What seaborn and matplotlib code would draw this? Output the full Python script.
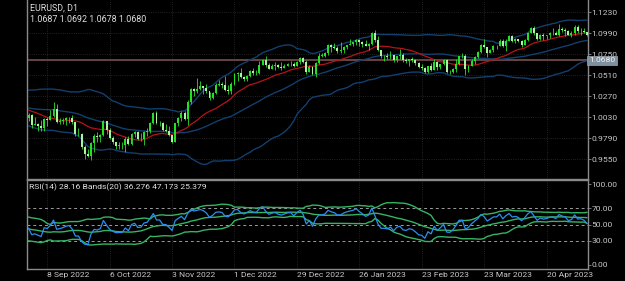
import numpy as np
import pandas as pd
import matplotlib
matplotlib.use('Agg')
import matplotlib.pyplot as plt
import matplotlib.transforms as mtransforms
import seaborn as sns

# daily closes before the visible window (Jun-Aug 2022), only used to warm up the indicators
history_close = [
    1.0650, 1.0750, 1.0720, 1.0695, 1.0705, 1.0715, 1.0615, 1.0520, 1.0410, 1.0415, 1.0445,
    1.0550, 1.0495, 1.0510, 1.0535, 1.0565, 1.0520, 1.0555, 1.0585, 1.0520, 1.0440, 1.0480,
    1.0425, 1.0425, 1.0265, 1.0180, 1.0160, 1.0185, 1.0040, 1.0035, 1.0060, 1.0020, 1.0080,
    1.0140, 1.0230, 1.0180, 1.0230, 1.0210, 1.0225, 1.0130, 1.0200, 1.0195, 1.0225,
    1.0260, 1.0165, 1.0165, 1.0245, 1.0180, 1.0195, 1.0210, 1.0300, 1.0320, 1.0260, 1.0160,
    1.0170, 1.0180, 1.0085, 1.0040, 0.9940, 0.9970, 0.9970, 0.9970, 0.9965, 1.0000, 1.0015,
]

# visible bars, 31 Aug 2022 - 9 May 2023
close = [
    1.0055,
    0.9945, 0.9955, 0.9930, 0.9905, 1.0010, 0.9998, 1.0040, 1.0120, 0.9970, 0.9980, 0.9995,
    1.0015, 1.0025, 0.9970, 0.9835, 0.9835, 0.9690, 0.9605, 0.9590, 0.9735, 0.9815, 0.9800,
    0.9825, 0.9985, 0.9885, 0.9790, 0.9740, 0.9700, 0.9705, 0.9705, 0.9780, 0.9720, 0.9835,
    0.9860, 0.9775, 0.9780, 0.9860, 0.9875, 0.9965, 1.0080, 0.9965, 0.9965, 0.9880,
    0.9875, 0.9820, 0.9750, 0.9960, 1.0020, 1.0075, 1.0010, 1.0200, 1.0355, 1.0325, 1.0350,
    1.0385, 1.0365, 1.0325, 1.0245, 1.0305, 1.0395, 1.0410, 1.0400, 1.0340, 1.0330, 1.0405,
    1.0525, 1.0535, 1.0490, 1.0470, 1.0505, 1.0555, 1.0535, 1.0535, 1.0630, 1.0680, 1.0625,
    1.0585, 1.0610, 1.0625, 1.0605, 1.0595, 1.0615, 1.0635, 1.0640, 1.0610, 1.0660, 1.0705,
    1.0665, 1.0550, 1.0605, 1.0520, 1.0645, 1.0735, 1.0735, 1.0760, 1.0850, 1.0830, 1.0820,
    1.0790, 1.0795, 1.0830, 1.0855, 1.0870, 1.0885, 1.0915, 1.0890, 1.0870, 1.0845, 1.0865,
    1.0990, 1.0910, 1.0795, 1.0725, 1.0725, 1.0715, 1.0740, 1.0680, 1.0725, 1.0740, 1.0685,
    1.0675, 1.0695, 1.0685, 1.0650, 1.0605, 1.0595, 1.0545, 1.0610, 1.0575,
    1.0665, 1.0600, 1.0635, 1.0680, 1.0550, 1.0545, 1.0580, 1.0640, 1.0730, 1.0730, 1.0580,
    1.0610, 1.0670, 1.0720, 1.0770, 1.0860, 1.0830, 1.0760, 1.0800, 1.0845, 1.0845, 1.0905,
    1.0840,
    1.0905, 1.0955, 1.0905, 1.0920, 1.0905, 1.0860, 1.0915, 1.0995, 1.1045, 1.0990, 1.0925,
    1.0970, 1.0955, 1.0965, 1.0990, 1.0990, 1.0975, 1.1040, 1.1025, 1.1015,
    1.0975, 1.0990, 1.1060, 1.1015, 1.1020, 1.1005, 1.0965,
]
high = [
    1.0080,
    1.0060, 1.0035, 0.9960, 1.0000, 1.0015, 1.0030, 1.0115, 1.0198, 1.0185, 1.0020, 1.0020,
    1.0035, 1.0030, 1.0050, 0.9975, 0.9905, 0.9850, 0.9710, 0.9670, 0.9750, 0.9835, 0.9855,
    0.9835, 0.9999, 0.9990, 0.9905, 0.9810, 0.9750, 0.9740, 0.9740, 0.9805, 0.9810, 0.9845,
    0.9875, 0.9870, 0.9850, 0.9870, 0.9900, 0.9975, 1.0090, 1.0095, 0.9985, 0.9975,
    0.9955, 0.9930, 0.9820, 0.9965, 1.0030, 1.0095, 1.0095, 1.0225, 1.0365, 1.0365, 1.0480,
    1.0445, 1.0390, 1.0405, 1.0320, 1.0315, 1.0415, 1.0450, 1.0435, 1.0500, 1.0400, 1.0430,
    1.0535, 1.0545, 1.0595, 1.0505, 1.0515, 1.0565, 1.0590, 1.0565, 1.0675, 1.0695, 1.0735,
    1.0650, 1.0640, 1.0665, 1.0640, 1.0660, 1.0635, 1.0645, 1.0670, 1.0665, 1.0675, 1.0715,
    1.0715, 1.0680, 1.0630, 1.0610, 1.0660, 1.0760, 1.0760, 1.0775, 1.0870, 1.0870, 1.0875,
    1.0845, 1.0887, 1.0845, 1.0860, 1.0925, 1.0890, 1.0930, 1.0930, 1.0900, 1.0915, 1.0875,
    1.1000, 1.1033, 1.0955, 1.0800, 1.0740, 1.0760, 1.0790, 1.0740, 1.0735, 1.0805, 1.0760,
    1.0710, 1.0700, 1.0715, 1.0700, 1.0665, 1.0640, 1.0605, 1.0620, 1.0645,
    1.0690, 1.0670, 1.0640, 1.0695, 1.0695, 1.0565, 1.0590, 1.0700, 1.0735, 1.0760, 1.0750,
    1.0630, 1.0690, 1.0730, 1.0785, 1.0865, 1.0930, 1.0835, 1.0805, 1.0850, 1.0860, 1.0925,
    1.0925,
    1.0920, 1.0975, 1.0970, 1.0940, 1.0925, 1.0910, 1.0925, 1.1000, 1.1065, 1.1075, 1.0995,
    1.0980, 1.0990, 1.0975, 1.1000, 1.1045, 1.1020, 1.1095, 1.1065, 1.1045,
    1.1025, 1.1020, 1.1090, 1.1090, 1.1050, 1.1055, 1.1010,
]
low = [
    0.9990,
    0.9910, 0.9940, 0.9875, 0.9865, 0.9865, 0.9930, 0.9995, 1.0030, 0.9965, 0.9955, 0.9955,
    0.9945, 0.9965, 0.9955, 0.9810, 0.9810, 0.9670, 0.9555, 0.9575, 0.9535, 0.9635, 0.9750,
    0.9750, 0.9810, 0.9840, 0.9780, 0.9725, 0.9670, 0.9665, 0.9670, 0.9630, 0.9705, 0.9710,
    0.9805, 0.9765, 0.9760, 0.9705, 0.9810, 0.9845, 0.9950, 0.9955, 0.9925, 0.9870,
    0.9860, 0.9815, 0.9730, 0.9745, 0.9925, 0.9990, 0.9995, 0.9935, 1.0175, 1.0270, 1.0310,
    1.0345, 1.0300, 1.0310, 1.0225, 1.0240, 1.0290, 1.0390, 1.0360, 1.0325, 1.0290, 1.0290,
    1.0400, 1.0445, 1.0480, 1.0445, 1.0440, 1.0485, 1.0510, 1.0510, 1.0525, 1.0625, 1.0605,
    1.0580, 1.0580, 1.0570, 1.0590, 1.0575, 1.0590, 1.0615, 1.0615, 1.0605, 1.0615, 1.0635,
    1.0655, 1.0520, 1.0545, 1.0510, 1.0485, 1.0640, 1.0715, 1.0715, 1.0745, 1.0780, 1.0805,
    1.0765, 1.0765, 1.0765, 1.0810, 1.0860, 1.0840, 1.0860, 1.0840, 1.0835, 1.0840, 1.0800,
    1.0860, 1.0895, 1.0785, 1.0710, 1.0670, 1.0700, 1.0690, 1.0665, 1.0660, 1.0700, 1.0660,
    1.0650, 1.0615, 1.0665, 1.0630, 1.0590, 1.0575, 1.0535, 1.0530, 1.0560,
    1.0570, 1.0575, 1.0580, 1.0630, 1.0535, 1.0525, 1.0535, 1.0550, 1.0630, 1.0710, 1.0516,
    1.0550, 1.0610, 1.0635, 1.0710, 1.0765, 1.0825, 1.0715, 1.0760, 1.0770, 1.0810, 1.0840,
    1.0830,
    1.0790, 1.0900, 1.0895, 1.0880, 1.0890, 1.0835, 1.0855, 1.0905, 1.0990, 1.0970, 1.0910,
    1.0910, 1.0915, 1.0925, 1.0935, 1.0965, 1.0965, 1.0960, 1.1005, 1.0960,
    1.0965, 1.0945, 1.0965, 1.0995, 1.0970, 1.0990, 1.0960,
]

dates = pd.bdate_range('2022-08-31', '2023-05-09')
tick_labels = ['8 Sep 2022', '6 Oct 2022', '3 Nov 2022', '1 Dec 2022', '29 Dec 2022',
               '26 Jan 2023', '23 Feb 2023', '23 Mar 2023', '20 Apr 2023']
price_ticks = [0.9550, 0.9790, 1.0030, 1.0270, 1.0510, 1.0750, 1.0990, 1.1230]
rsi_ticks = [0, 30, 50, 70, 100]
rsi_levels = [30, 50, 70]
last_price = 1.0680
header = ['EURUSD, D1', '1.0687 1.0692 1.0678 1.0680']
rsi_header = 'RSI(14) 28.16 Bands(20) 36.276 47.173 25.379'

# indicators, computed the way the terminal does it
full = pd.Series(history_close + close)
n = len(close)
ma20 = full.rolling(20).mean()
bb_mid = full.rolling(40).mean()
bb_sd = full.rolling(40).std(ddof=0)
delta = full.diff()
gain = delta.clip(lower=0).ewm(alpha=1 / 14, adjust=False).mean()
loss = (-delta.clip(upper=0)).ewm(alpha=1 / 14, adjust=False).mean()
rsi = 100 - 100 / (1 + gain / loss)
rsi_mid = rsi.rolling(20).mean()
rsi_sd = rsi.rolling(20).std(ddof=0)

df = pd.DataFrame({
    'x': np.arange(n),
    'open': full.shift(1).iloc[-n:].values,
    'close': close, 'high': high, 'low': low,
    'ma20': ma20.iloc[-n:].values,
    'bb_up': (bb_mid + 2 * bb_sd).iloc[-n:].values,
    'bb_mid': bb_mid.iloc[-n:].values,
    'bb_lo': (bb_mid - 2 * bb_sd).iloc[-n:].values,
    'rsi': rsi.iloc[-n:].values,
    'rsi_up': (rsi_mid + 2 * rsi_sd).iloc[-n:].values,
    'rsi_mid': rsi_mid.iloc[-n:].values,
    'rsi_lo': (rsi_mid - 2 * rsi_sd).iloc[-n:].values,
})
tick_pos = [dates.get_loc(pd.Timestamp(t)) for t in tick_labels]

sns.set_theme(style='dark', rc={
    'figure.facecolor': 'black', 'axes.facecolor': 'black',
    'axes.edgecolor': '#8a8a8a', 'axes.linewidth': 1.0,
    'text.color': '#d8d8d8', 'xtick.color': '#c8c8c8', 'ytick.color': '#c8c8c8',
    'axes.grid': True, 'grid.color': '#2e2e2e', 'grid.linestyle': ':', 'grid.linewidth': 0.6,
})
plt.rcParams['font.family'] = ['Roboto', 'DejaVu Sans']
FS = 6.1

fig = plt.figure(figsize=(6.25, 2.81), dpi=100)
ax = fig.add_axes([27 / 625, 1 - 179 / 281, 561 / 625, 179 / 281])
ax2 = fig.add_axes([27 / 625, 1 - 269 / 281, 561 / 625, 89 / 281])

# candles
up = df['close'] >= df['open']
body_lo = np.minimum(df['open'], df['close'])
body_h = np.maximum(np.abs(df['close'] - df['open']), 0.0003)
colors = np.where(up, '#22e022', '#a8f5a0')
ax.vlines(df['x'], df['low'], df['high'], color='#2fdc2f', linewidth=0.6, zorder=3)
ax.bar(df['x'], body_h, bottom=body_lo, width=0.62, color=colors, linewidth=0, zorder=4)

for col in ['bb_up', 'bb_mid', 'bb_lo']:
    sns.lineplot(data=df, x='x', y=col, ax=ax, color='#123f6e', linewidth=1.0, zorder=2)
sns.lineplot(data=df, x='x', y='ma20', ax=ax, color='#b3141a', linewidth=0.9, zorder=2)
ax.axhline(last_price, color='#6f4a4a', linewidth=1.3, zorder=1)

ax.set_xlim(-0.5, 179.3)
ax.set_ylim(0.9321, 1.1371)
ax.set_xticks(tick_pos)
ax.set_xticklabels([])
ax.tick_params(axis='x', length=0)
ax.set_yticks(price_ticks)
ax.set_yticklabels([f'{v:.4f}' for v in price_ticks], fontsize=FS)
ax.yaxis.tick_right()
ax.tick_params(axis='y', length=2, width=0.6, color='#8a8a8a', pad=0.5)
ax.set_xlabel('')
ax.set_ylabel('')
ax.spines['top'].set_visible(False)
tr = mtransforms.blended_transform_factory(ax.transAxes, ax.transData)
ax.text(1.002, last_price, f'{last_price:.4f}', transform=tr, ha='left', va='center',
        fontsize=FS, color='#f4f4f4', clip_on=False, zorder=10,
        bbox=dict(boxstyle='square,pad=0.2', fc='#7f909e', ec='#9aa6b0', lw=0.5))

# RSI window
for lvl in rsi_levels:
    ax2.axhline(lvl, color='#9c9c9c', linewidth=0.7, linestyle=(0, (3, 3)), zorder=1)
for col in ['rsi_up', 'rsi_mid', 'rsi_lo']:
    sns.lineplot(data=df, x='x', y=col, ax=ax2, color='#35b464', linewidth=1.0, zorder=2)
sns.lineplot(data=df, x='x', y='rsi', ax=ax2, color='#2a8ff0', linewidth=0.9, zorder=3)
ax2.set_xlim(ax.get_xlim())
ax2.set_ylim(-5, 105.3)
ax2.set_yticks(rsi_ticks)
ax2.set_yticklabels([f'{v:.2f}' for v in rsi_ticks], fontsize=FS)
ax2.yaxis.tick_right()
ax2.tick_params(axis='y', length=2, width=0.6, color='#8a8a8a', pad=0.5)
ax2.grid(axis='y', visible=False)
ax2.set_xticks(tick_pos)
ax2.set_xticklabels(tick_labels, fontsize=FS, ha='left')
ax2.tick_params(axis='x', length=2, width=0.6, color='#8a8a8a', pad=0.5)
ax2.set_xlabel('')
ax2.set_ylabel('')

fig.text(30 / 625, 1 - 8.5 / 281, header[0], fontsize=6.4, color='#e0e0e0', va='center')
fig.text(30 / 625, 1 - 19.5 / 281, header[1], fontsize=6.4, color='#e0e0e0', va='center')
fig.text(29 / 625, 1 - 187 / 281, rsi_header, fontsize=FS, color='#e0e0e0', va='center')

fig.savefig('out.png', dpi=100, facecolor='black')
